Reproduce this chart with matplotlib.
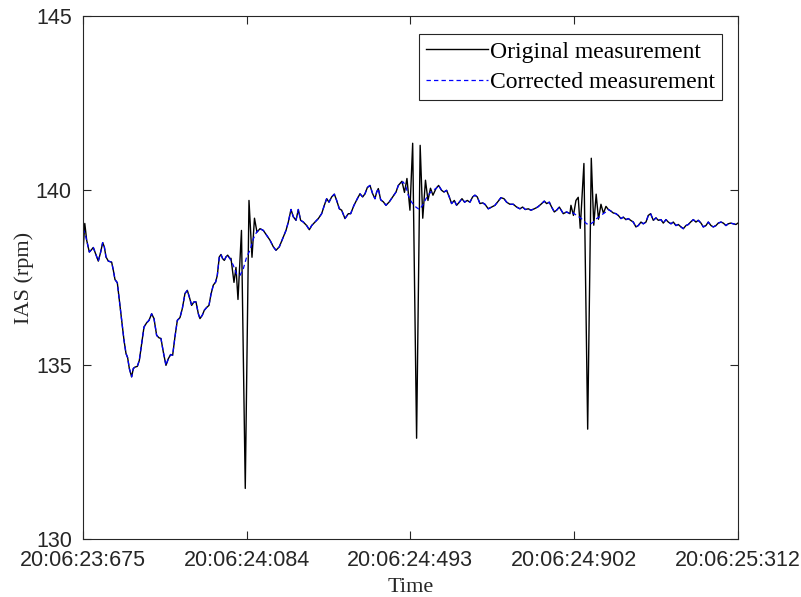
import matplotlib
matplotlib.use("Agg")
import matplotlib.pyplot as plt
import numpy as np

# corrected IAS trace: time offset (ms from 20:06:23:675) and speed (rpm)
corr_t = [0, 5.0, 9.2, 15.8, 20.0, 25.8, 31.7, 38.3, 44.2, 49.2,
          53.3, 57.5, 63.3, 71.6, 75.8, 80.0, 85.8, 90.8, 96.6, 102.5,
          107.5, 111.6, 115.8, 121.6, 125.8, 130.0, 135.8, 140.8, 146.6, 152.5,
          159.1, 165.0, 171.6, 177.5, 184.1, 190.0, 194.9, 200.8, 207.4, 213.3,
          219.1, 224.1, 229.9, 235.8, 242.4, 248.3, 254.9, 260.8, 265.8, 271.6,
          277.4, 282.4, 288.3, 292.4, 298.3, 303.2, 309.1, 314.9, 319.9, 325.7,
          331.6, 335.7, 340.7, 344.9, 349.1, 353.2, 357.4, 361.6, 367.4,
          375.7, 384.1, 392.4, 400.7, 409.1, 417.4, 425.7, 434.0, 442.4, 450.7,
          459.0, 467.4, 475.7, 482.4, 490.7, 499.0, 507.4, 513.2, 519.9, 525.7,
          532.4, 538.2, 544.0, 550.7, 559.0, 565.7, 571.6, 579.9, 588.2, 596.5,
          603.2, 609.0, 614.9, 621.5, 628.2, 634.0, 640.7, 646.5, 654.8, 663.2,
          669.0, 677.3, 685.7, 692.3, 699.0, 704.8, 710.7, 717.3, 724.0, 729.8,
          734.0, 738.1, 744.0, 750.6, 757.3, 765.6, 773.9, 782.3, 788.1,
          800.5, 807.2, 813.0, 821.4, 829.7, 840.5, 848.9, 857.2, 865.5, 873.8,
          882.2, 888.8, 896.3, 902.2, 908.8, 915.5, 921.3, 928.0, 933.8, 940.5,
          947.2, 953.8, 960.5, 967.2, 973.8, 979.6, 985.5, 992.1, 998.8, 1004.6,
          1013.0, 1021.3, 1029.6, 1038.0, 1044.6, 1052.2, 1058.8, 1067.1, 1075.5, 1083.8,
          1092.1, 1098.8, 1105.5, 1113.0, 1119.6, 1128.0, 1136.3, 1144.6, 1152.9, 1158.8,
          1165.5, 1171.3, 1178.0, 1183.8, 1190.5,
          1200.4, 1208.8, 1217.1, 1225.4, 1233.8, 1242.1, 1250.4, 1258.7, 1267.1, 1275.4,
          1283.7, 1292.1, 1300.4, 1307.1, 1312.9, 1318.8, 1325.4, 1332.1, 1337.9, 1344.6,
          1350.4, 1357.1, 1362.9, 1368.7, 1375.4, 1382.0, 1387.9, 1394.6, 1400.4, 1407.1,
          1412.9, 1418.7, 1425.4, 1432.1, 1437.9, 1444.6, 1450.4, 1457.0, 1462.9, 1469.6,
          1475.4, 1482.0, 1487.9, 1494.6, 1500.4, 1507.0, 1512.9, 1518.7, 1525.4, 1532.0,
          1537.9, 1544.6, 1550.4, 1557.0, 1562.9, 1569.6, 1575.4, 1582.0, 1587.9, 1594.5,
          1600.4, 1607.0, 1612.8, 1618.7, 1625.3, 1632.0, 1637.0]
corr_v = [138.90, 138.76, 138.57, 138.23, 138.28, 138.36, 138.18, 137.97, 138.23, 138.50,
          138.38, 138.09, 137.97, 137.94, 137.71, 137.44, 137.35, 136.85, 136.27, 135.70,
          135.32, 135.20, 134.89, 134.65, 134.89, 134.93, 134.95, 135.12, 135.60, 136.08,
          136.20, 136.27, 136.46, 136.32, 135.84, 135.77, 135.75, 135.36, 134.98, 135.17,
          135.29, 135.27, 135.80, 136.27, 136.35, 136.61, 137.04, 137.13, 136.94, 136.70,
          136.80, 136.80, 136.46, 136.32, 136.42, 136.56, 136.64, 136.70, 137.02, 137.28,
          137.37, 137.56, 138.09, 138.16, 138.04, 137.99, 138.09, 138.14, 138.04,
          137.85, 137.59, 137.56, 137.75, 138.09, 138.28, 138.61, 138.80, 138.90, 138.85,
          138.71, 138.57, 138.38, 138.28, 138.38, 138.61, 138.85, 139.09, 139.45, 139.24,
          139.14, 139.45, 139.14, 139.09, 138.99, 138.87, 138.99, 139.09, 139.19, 139.33,
          139.57, 139.76, 139.66, 139.81, 139.89, 139.71, 139.47, 139.43, 139.19, 139.33,
          139.33, 139.57, 139.76, 139.90, 139.81, 139.90, 140.08, 140.14, 139.90, 139.76,
          139.95, 140.05, 139.73, 139.67, 139.57, 139.67, 139.81, 139.95, 140.14,
          140.24, 140.10, 139.86, 139.66, 139.54, 139.45, 139.57, 139.76, 139.90, 140.00,
          140.05, 140.14, 140.00, 139.95, 140.00, 139.81, 139.62, 139.71, 139.57, 139.66,
          139.76, 139.66, 139.71, 139.66, 139.81, 139.86, 139.81, 139.62, 139.64, 139.60,
          139.47, 139.52, 139.57, 139.69, 139.79, 139.76, 139.66, 139.60, 139.60, 139.52,
          139.47, 139.52, 139.45, 139.47, 139.43, 139.47, 139.52, 139.60, 139.69, 139.62,
          139.66, 139.52, 139.38, 139.43, 139.52,
          139.33, 139.38, 139.33, 139.35, 139.28, 139.22, 139.14, 139.04, 139.02, 139.09,
          139.19, 139.25, 139.33, 139.38, 139.45, 139.41, 139.35, 139.33, 139.28, 139.19,
          139.23, 139.16, 139.19, 139.14, 139.09, 138.95, 138.99, 139.09, 139.04, 139.09,
          139.28, 139.33, 139.14, 139.21, 139.14, 139.16, 139.06, 139.16, 139.09, 139.04,
          139.09, 138.99, 139.02, 138.95, 138.90, 138.99, 139.02, 139.09, 139.16, 139.09,
          139.14, 139.06, 138.95, 138.99, 139.09, 138.99, 138.95, 138.99, 139.06, 139.09,
          139.06, 138.99, 139.04, 139.06, 139.04, 139.02, 139.06]

# sections where the original measurement departs from the corrected one
start_t = [0, 4.5, 9.0]
start_v = [138.23, 139.05, 138.60]
spike1_t = [369.9, 377.4, 382.4, 387.4, 396.1, 405.6, 414.9, 422.4, 428.6, 434.9]
spike1_v = [138.05, 137.36, 137.79, 136.87, 138.85, 131.45, 139.71, 138.08, 139.20, 138.80]
spike2_t = [797.2, 803.5, 809.7, 817.2, 824.0, 833.8, 842.7, 849.2, 856.0, 862.2, 868.5, 874.7]
spike2_v = [140.26, 139.94, 140.34, 139.43, 141.35, 132.89, 141.29, 139.20, 140.29, 139.71, 140.06, 139.86]
spike3_t = [1219.6, 1225.8, 1232.1, 1237.8, 1242.8, 1252.0, 1261.4, 1270.4, 1276.6, 1282.6,
            1288.4, 1294.6, 1300.8, 1307.1]
spike3_v = [139.57, 139.28, 139.71, 139.80, 138.91, 140.77, 133.15, 140.92, 139.00, 139.89,
            139.17, 139.60, 139.34, 139.54]

tick_pos = [0, 409, 818, 1227, 1637]
tick_labels = ['20:06:23:675', '20:06:24:084', '20:06:24:493', '20:06:24:902', '20:06:25:312']

# build the original trace: corrected samples outside the bursts + burst samples
ct = np.array(corr_t)
cv = np.array(corr_v)
keep = np.ones(len(ct), dtype=bool)
bt, bv = [], []
for t, v in [(start_t, start_v), (spike1_t, spike1_v), (spike2_t, spike2_v), (spike3_t, spike3_v)]:
    keep &= ~((ct >= t[0]) & (ct <= t[-1]))
    bt += t
    bv += v
orig_t = np.concatenate([ct[keep], bt])
orig_v = np.concatenate([cv[keep], bv])
order = np.argsort(orig_t)
orig_t, orig_v = orig_t[order], orig_v[order]

serif = ['Liberation Serif', 'DejaVu Serif']
sans = ['Liberation Sans', 'DejaVu Sans']

fig = plt.figure(figsize=(8.01, 5.97), dpi=100)
ax = fig.add_axes([0.1036, 0.0972, 0.8177, 0.876])

ax.plot(orig_t, orig_v, color='k', lw=1.0, label='Original measurement')
ax.plot(ct, cv, color='#0000ff', lw=0.9, ls=(0, (3.5, 2.5)), label='Corrected measurement')

ax.set_xlim(0, 1637)
ax.set_ylim(130, 145)
ax.set_xticks(tick_pos)
ax.set_xticklabels(tick_labels)
ax.set_yticks([130, 135, 140, 145])
ax.tick_params(direction='in', length=6, width=0.8, top=True, right=True,
               labelsize=15.5, colors='#262626', pad=8)
for lab in ax.get_xticklabels() + ax.get_yticklabels():
    lab.set_family(sans)
for s in ax.spines.values():
    s.set_color('#262626')
    s.set_linewidth(0.8)

ax.set_xlabel('Time', family=serif, fontsize=16, color='#262626', labelpad=5)
ax.set_ylabel('IAS (rpm)', family=serif, fontsize=16, color='#262626', labelpad=1)

leg = ax.legend(loc='upper right', bbox_to_anchor=(0.9756, 0.9656), borderaxespad=0,
                prop={'family': serif, 'size': 17}, fancybox=False, framealpha=1,
                edgecolor='#262626', handlelength=2.6, handletextpad=0.1,
                borderpad=0.3, labelspacing=0.38)
leg.get_frame().set_linewidth(0.8)

fig.savefig('out.png', dpi=100)
